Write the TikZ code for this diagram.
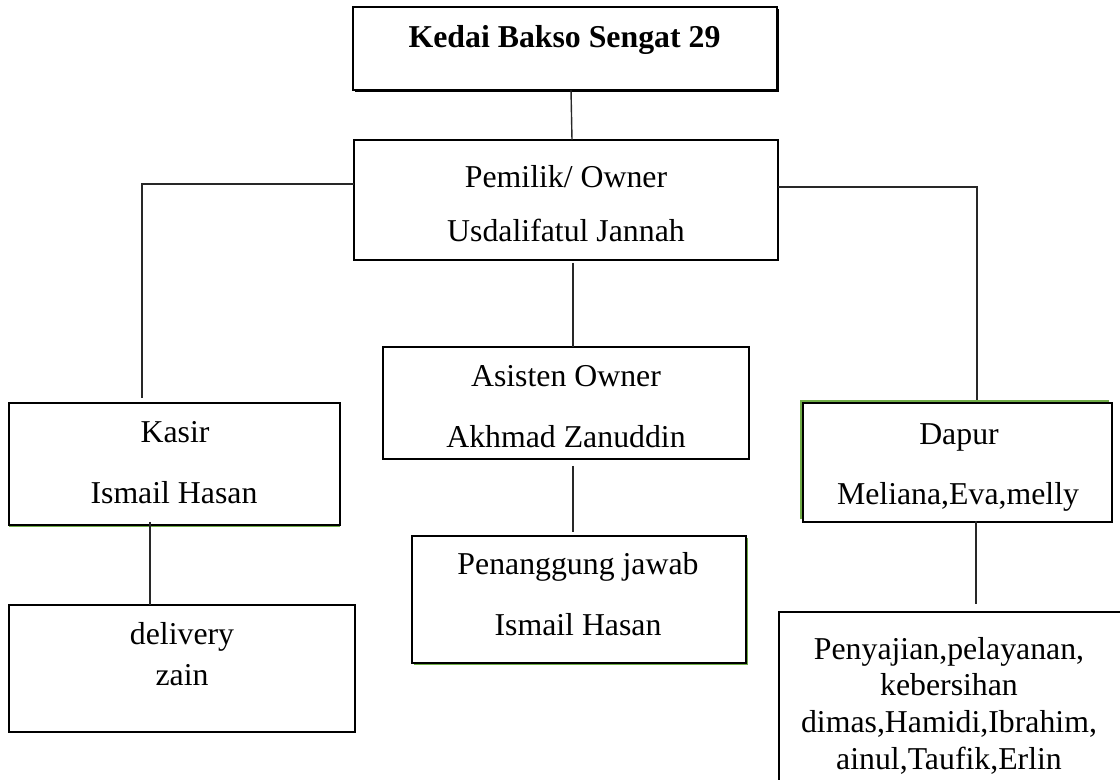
\documentclass[tikz,border=0pt]{standalone}
\usepackage{fontspec}
\setmainfont{Liberation Serif}
\usetikzlibrary{shadows,calc}
\definecolor{okgreen}{RGB}{112,173,71}
\definecolor{lineg}{RGB}{40,40,40}
\begin{document}
\begin{tikzpicture}[x=0.5pt,y=-0.5pt,
  box/.style={draw=black, line width=0.75pt, fill=white, inner sep=0pt, outer sep=0pt},
  lbl/.style={font=\fontsize{15.9}{18}\selectfont, anchor=base, inner sep=0pt},
  conn/.style={draw=lineg, line width=0.7pt},
  gshadow/.style={general shadow={fill=okgreen, shadow xshift=#1, shadow yshift=-#1}},
  ]
\clip (0,0) rectangle (1120,780);
\fill[white] (0,0) rectangle (1120,780);
% boxes
\node[box, minimum width=212pt, minimum height=41.5pt,
      general shadow={fill=black, shadow xshift=1pt, shadow yshift=-1pt}] (top) at (565,48.5) {};
\node[box, minimum width=212pt, minimum height=60pt] (owner) at (566,200) {};
\node[box, minimum width=183pt, minimum height=56pt] (asisten) at (566,403) {};
\node[box, minimum width=167pt, minimum height=63.5pt,
      general shadow={fill=okgreen, shadow xshift=1.2pt, shadow yshift=-1.2pt}] (penang) at (579,599.5) {};
\node[box, minimum width=165.5pt, minimum height=61pt,
      general shadow={fill=okgreen, shadow xshift=0pt, shadow yshift=-1.2pt}] (kasir) at (174.5,464) {};
\node[box, minimum width=173pt, minimum height=63.5pt] (delivery) at (182,668.5) {};
\node[box, minimum width=154.5pt, minimum height=59.5pt,
      general shadow={fill=okgreen, shadow xshift=-1.5pt, shadow yshift=1.5pt}] (dapur) at (957.5,462.5) {};
\node[box, minimum width=173pt, minimum height=89pt] (penyajian) at (952,701) {};
% connectors
\draw[conn] ([xshift=3pt]top.south) -- ([xshift=3pt]owner.north);
\draw[conn] ([yshift=8pt]owner.west) -| ([xshift=-16.25pt,yshift=2.5pt]kasir.north);
\draw[conn] ([yshift=6.5pt]owner.east) -| ([xshift=9.75pt,yshift=1.5pt]dapur.north);
\draw[conn] ([xshift=3.5pt,yshift=-1.5pt]owner.south) -- ([xshift=3.5pt]asisten.north);
\draw[conn] ([xshift=3.5pt,yshift=-3.5pt]asisten.south) -- ([xshift=-3pt,yshift=2pt]penang.north);
\draw[conn] ([xshift=-12.25pt,yshift=1.5pt]kasir.south) -- ([xshift=-16pt]delivery.north);
\draw[conn] ([xshift=9.25pt,yshift=0.5pt]dapur.south) -- ([xshift=12pt,yshift=4pt]penyajian.north);
% labels
\node[lbl, font=\fontsize{15.9}{18}\selectfont\bfseries] (t0) at (564.5,48) {Kedai Bakso Sengat 29};
\node[lbl] (t1) at (566,188) {Pemilik/ Owner};
\node[lbl] (t2) at (566,242) {Usdalifatul Jannah};
\node[lbl] (t3) at (566,387) {Asisten Owner};
\node[lbl] (t4) at (566,448) {Akhmad Zanuddin};
\node[lbl] (t5) at (578,575) {Penanggung jawab};
\node[lbl] (t6) at (578,636) {Ismail Hasan};
\node[lbl] (t7) at (175,443) {Kasir};
\node[lbl] (t8) at (174,504) {Ismail Hasan};
\node[lbl] (t9) at (182,645) {delivery};
\node[lbl] (t10) at (182,685) {zain};
\node[lbl] (t11) at (959,445) {Dapur};
\node[lbl] (t12) at (958,505) {Meliana,Eva,melly};
\node[lbl] (t13) at (949,660) {Penyajian,pelayanan,};
\node[lbl] (t14) at (949,696) {kebersihan};
\node[lbl] (t15) at (949,733) {dimas,Hamidi,Ibrahim,};
\node[lbl] (t16) at (949,769.5) {ainul,Taufik,Erlin};
\end{tikzpicture}
\end{document}
